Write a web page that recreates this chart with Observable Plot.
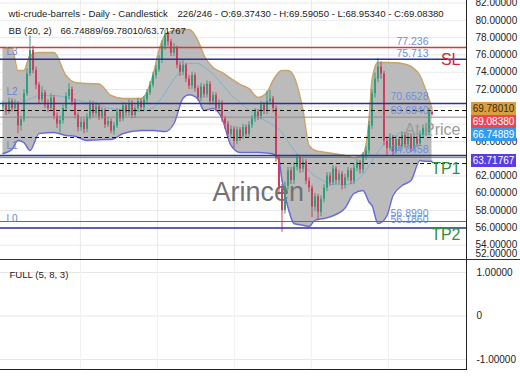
<!DOCTYPE html>
<html><head><meta charset="utf-8">
<script src="https://cdn.jsdelivr.net/npm/d3@7"></script>
<script src="https://cdn.jsdelivr.net/npm/@observablehq/plot@0.6"></script>
<style>
body{margin:0;background:#fff;font-family:"Liberation Sans",Arial,sans-serif;}
#wrap{position:relative;width:520px;height:390px;overflow:hidden;background:#fff;}
#main,#sub{position:absolute;left:0;}
#main{top:0;} #sub{top:260px;}
#sep{position:absolute;left:0;top:259px;width:520px;height:1px;background:#333;}
.badge{position:absolute;left:471px;width:45px;height:13px;font-size:10px;line-height:13px;text-align:center;font-family:"Liberation Sans",Arial,sans-serif;}
</style></head><body>
<div id="wrap"><div id="main"></div><div id="sub"></div><div id="sep"></div></div>
<script>
// ---- candle data (bar index = position in arrays) ----
const firstOpen = 70.0;
const closes = [70.2,69.4,70.6,69.8,70.4,67.8,68.5,71.5,73.8,76.5,
74.2,72.5,70.8,71.6,70.2,69.8,71.0,68.9,68.0,68.4,
69.8,71.2,72.0,70.5,69.0,67.6,68.2,67.4,68.8,70.3,
69.2,70.0,68.8,69.5,67.9,68.3,67.2,67.8,69.4,68.6,
70.1,69.3,70.4,69.0,69.8,70.6,69.9,70.8,71.6,72.5,
73.6,74.3,75.4,77.0,78.3,77.5,76.2,76.8,74.8,74.0,
74.8,73.2,72.4,73.6,72.1,71.0,72.3,71.4,72.6,70.6,
71.3,69.8,70.4,68.6,68.0,66.8,67.4,66.0,67.3,66.5,
67.6,66.8,67.9,68.6,69.4,68.9,70.2,69.5,70.6,70.9,
69.8,64.0,60.5,58.0,60.8,62.6,61.5,63.0,64.1,62.8,
63.6,61.4,60.6,58.4,59.6,57.8,59.3,60.6,62.0,61.2,
62.8,61.5,62.2,60.9,61.8,62.6,61.4,62.9,63.5,62.7,
64.3,64.9,67.8,71.5,73.2,74.6,73.8,66.0,65.2,66.4,
64.8,66.2,65.4,66.7,65.6,66.5,65.1,66.3,65.7,66.8,
67.5,67.0,69.3743,69.0838];
const highs = [70.6,70.5,71.0,70.9,70.8,70.6,68.9,72.0,74.4,78.2,
77.0,74.6,72.8,72.3,71.9,70.8,71.5,71.3,69.3,68.9,
70.2,71.6,72.7,72.3,70.9,69.3,68.7,68.6,69.2,70.7,
70.6,70.5,70.3,69.9,69.8,68.8,68.6,68.2,69.8,69.7,
70.5,70.4,70.8,70.7,70.2,71.0,70.9,71.2,72.0,72.9,
74.0,74.8,75.9,77.6,78.8,78.6,77.8,77.3,77.0,75.2,
75.3,75.0,73.6,74.0,73.9,72.4,72.7,72.6,73.0,72.9,
71.7,71.6,70.8,70.7,68.9,68.3,67.8,67.7,67.7,67.6,
68.0,67.9,68.3,69.0,69.8,69.7,70.6,70.5,71.8,71.9,
71.2,70.1,64.4,61.0,61.3,63.0,63.0,63.5,64.5,64.4,
64.0,63.9,61.8,60.9,60.0,59.9,59.7,61.0,62.4,62.4,
63.2,63.1,62.6,62.5,62.2,63.0,62.9,63.3,63.9,63.8,
64.7,65.4,68.3,72.0,73.9,75.6,75.2,74.1,66.5,66.9,
66.7,66.6,66.5,67.1,67.0,66.9,66.8,66.7,66.6,67.2,
67.9,67.8,69.9,69.5905];
const lows = [69.6,69.0,69.1,69.4,69.4,66.9,67.2,68.2,71.2,73.5,
73.8,72.0,70.3,70.5,69.8,69.3,69.5,68.5,67.5,67.0,
68.0,69.5,70.8,70.1,68.6,67.1,67.2,66.9,67.0,68.5,
68.8,68.9,68.4,68.5,67.5,67.6,66.9,66.7,67.5,68.2,
68.3,68.9,68.9,68.6,68.7,69.4,69.5,69.6,70.4,71.3,
72.2,73.2,74.0,75.0,76.5,77.0,75.8,75.8,74.4,73.5,
73.6,72.8,72.0,72.0,71.7,70.6,70.6,71.0,71.0,70.2,
70.2,69.4,69.4,68.2,67.4,66.3,66.4,65.2,65.6,66.0,
66.2,66.4,66.4,67.5,68.2,68.4,68.5,69.1,69.1,70.2,
69.3,63.6,59.8,55.5,57.6,60.4,61.0,61.0,62.6,62.3,
62.4,61.0,60.1,57.2,57.9,56.8,57.3,58.9,60.2,60.8,
60.9,61.0,61.0,60.4,60.5,61.4,61.0,61.0,62.5,62.2,
62.3,63.8,64.5,67.4,71.0,72.8,73.2,65.5,64.4,64.9,
64.3,64.5,65.0,65.0,65.2,65.2,64.7,64.8,65.3,65.4,
66.4,66.6,66.7,68.9534];

// ---- Bollinger band (20, 2) ----
const bandBars = [0,3,5,7,9,12,17,21,24,28,32,36,40,46,50,52,54,57,60,62,65,67,70,73,76,79,82,85,88,90,92,93,95,97,100,102,104,107,110,114,117,120,122,123,125,128,130,133,136,139,141,143];
const bandUpper = [76.86,76.74,74.20,74.20,75.93,76.28,76.28,73.62,72.81,72.69,72.65,71.31,70.96,70.96,73.62,76.51,78.24,78.82,78.9,78.94,77.66,75.93,74.54,73.97,73.27,72.6,72.1,71.08,71.65,73.04,74.0,74.2,74.2,73.5,69.57,65.53,64.95,64.75,64.6,64.37,64.1,64.5,68.42,73.04,75.12,75.12,75.1,75.01,74.66,73.62,71.88,69.7801];
const bandLower = [64.60,65.1,66.10,65.87,64.95,66.91,67.03,66.68,66.6,66.10,66.2,66.22,66.91,67.26,67.26,67.2,67.14,68.07,71.0,71.4,70.9,69.57,69.80,68.65,65.53,64.72,64.72,64.72,64.65,64.55,63.79,61.48,58.36,56.51,56.3,56.16,56.9,57.09,57.4,58.3,59.98,60.32,59.0,58.6,56.51,57.43,59.75,60.90,61.48,63.79,63.7,63.71767];
const bandMiddle = [70.3,70.5,70.4,70.6,70.9,71.3,71.3,71.1,70.8,70.5,70.2,69.8,69.6,69.5,69.9,70.6,71.6,73.2,74.5,75.0,75.0,74.6,73.8,72.6,71.4,70.5,69.6,68.9,68.3,67.9,67.4,67.0,66.0,65.0,63.6,62.6,62.0,61.4,61.0,61.0,61.3,62.2,63.2,63.8,64.8,66.0,66.5,67.0,66.9,66.8,66.8,66.74889];

// ---- axes / grid ----
const priceGrid = [54,56,58,60,62,64,66,68,70,72,74,76,78,80,82];
const priceTickLabels = [54,56,58,60,62,66,72,74,76,78,80,82]; // 64, 68, 70 sit under the price badges
const bottomTickLabel = "52.00000";
const gridBars = [25.8,51.5,77.2,102.8,128.5];
const oscTicks = [1,0,-1];
const oscTickLabels = ["1.00000","0","-1.00000"];

// ---- horizontal levels ----
const levelValues = [76.86,75.5,70.38,69.57,68.8,66.45,64.37,64.17,63.44,56.74,55.99];
const levelKinds = ["red","navy","navy","dash","gray","dash","navy","green","dash","green","navy"];
const levelLabels = ["77.236","75.713","70.6528","69.6840","64.6458","56.8990","56.1860"];
const levelLabelAt = [77.55,76.16,71.19,69.57,65.06,57.66,56.97];
const lineNames = ["L3","L2","L1","L0"];
const lineNameAt = [76.31,71.69,65.53,57.09];
const zoneNames = ["SL","At Price","TP1","TP2"];
const zoneAt = [75.47,67.34,62.87,55.24];
const zoneColors = ["#d3253a","#9a9a9a","#2f8f3a","#2f8f3a"];
const watermark = "Arincen";
const watermarkAt = 60.1;

// ---- price badges on the axis ----
const badgeValues = [69.78010,69.08380,66.74889,63.71767];
const badgeFill = ["#d9a03f","#ec4656","#2f9cf0","#5a3ce2"];
const badgeInk = ["#3a2a10","#ffffff","#ffffff","#ffffff"];

// ---- header ----
const symbolName = "wti-crude-barrels - Daily - Candlestick";
const barCounter = "226/246";
const bbName = "BB (20, 2)";
const oscName = "FULL (5, 8, 3)";

// ---- build tables ----
const candles = closes.map((c, i) => ({
  i, close: c, open: i ? closes[i - 1] : firstOpen, high: highs[i], low: lows[i]
}));
candles.forEach(d => d.up = d.close >= d.open);
const band = bandBars.map((b, k) => ({i: b, upper: bandUpper[k], lower: bandLower[k], middle: bandMiddle[k]}));
const levels = levelValues.map((v, k) => ({value: v, kind: levelKinds[k]}));
const last = candles[candles.length - 1];
const f5 = v => v.toFixed(5);
const ohlcText = `${barCounter} - O:${f5(last.open)} - H:${f5(last.high)} - L:${f5(last.low)} - C:${f5(last.close)}`;
const bbText = `${f5(bandMiddle[bandMiddle.length-1])}/${f5(bandUpper[bandUpper.length-1])}/${f5(bandLower[bandLower.length-1])}`;

const FONT = "Liberation Sans, Arial, sans-serif";
const UP = "#2f9e7c", DOWN = "#cc3f5e";
const xDomain = [-0.833, 154.5];

const lvl = k => levels.filter(d => d.kind === k);

const main = Plot.plot({
  width: 520, height: 260,
  marginLeft: 0, marginRight: 54, marginTop: 0, marginBottom: 0,
  x: {domain: xDomain, axis: null},
  y: {domain: [52.23, 82.29]},
  style: {fontFamily: FONT, fontSize: "10px", background: "transparent", overflow: "hidden"},
  marks: [
    Plot.ruleY(priceGrid, {y: d => d, stroke: "#e9e9e9", strokeWidth: 1}),
    Plot.ruleX(gridBars, {x: d => d, stroke: "#e9e9e9", strokeWidth: 1}),
    Plot.areaY(band, {x: "i", y1: "lower", y2: "upper", fill: "#bbbbbb", curve: "monotone-x"}),
    Plot.lineY(band, {x: "i", y: "upper", stroke: "#c9a46a", strokeWidth: 1.5, curve: "monotone-x"}),
    Plot.lineY(band, {x: "i", y: "lower", stroke: "#6a6ad6", strokeWidth: 1.5, curve: "monotone-x"}),
    Plot.lineY(band, {x: "i", y: "middle", stroke: "#7db3d3", strokeWidth: 1, curve: "monotone-x"}),
    Plot.text([watermark], {text: d => d, y: watermarkAt, frameAnchor: "left", dx: 212, textAnchor: "start", fontSize: 27, fill: "#727272"}),
    Plot.ruleX(candles, {x: "i", y1: "low", y2: "high", stroke: d => d.up ? UP : DOWN, strokeWidth: 1}),
    Plot.ruleX(candles, {x: "i", y1: "open", y2: "close", stroke: d => d.up ? UP : DOWN, strokeWidth: 2}),
    Plot.ruleY(lvl("gray"), {y: "value", stroke: "#8c8c8c", strokeWidth: 1}),
    Plot.ruleY(lvl("dash"), {y: "value", stroke: "#111", strokeWidth: 1, strokeDasharray: "4,3"}),
    Plot.ruleY(lvl("green"), {y: "value", stroke: "#3c8a3c", strokeWidth: 1.2}),
    Plot.ruleY(lvl("navy"), {y: "value", stroke: "#2f2f96", strokeWidth: 1.5}),
    Plot.ruleY(lvl("red"), {y: "value", stroke: "#cf3a3a", strokeWidth: 1.5}),
    Plot.text(levelLabels, {text: d => d, y: (d, k) => levelLabelAt[k], frameAnchor: "right", dx: -38, textAnchor: "end", fontSize: 10.5, fill: "#6d8ee0"}),
    Plot.text(lineNames, {text: d => d, y: (d, k) => lineNameAt[k], frameAnchor: "left", dx: 6, textAnchor: "start", fontSize: 10, fill: "#6a86d2"}),
    Plot.text(zoneNames, {text: d => d, y: (d, k) => zoneAt[k], frameAnchor: "right", dx: -6, textAnchor: "end", fontSize: 16, fill: (d, k) => zoneColors[k]}),
    Plot.axisY({anchor: "right", ticks: priceTickLabels, tickFormat: d => d.toFixed(5), tickSize: 0, tickPadding: 9, fontSize: 10, fill: "#222", label: null}),
    Plot.text([bottomTickLabel], {text: d => d, frameAnchor: "bottom-right", dx: 9, dy: -7, textAnchor: "start", lineAnchor: "middle", fontSize: 10, fill: "#222"}),
    Plot.frame({anchor: "right", stroke: "#222"}),
    Plot.text([symbolName], {text: d => d, frameAnchor: "top-left", dx: 8, dy: 13, textAnchor: "start", lineAnchor: "middle", fontSize: 9.6, fill: "#222"}),
    Plot.text([ohlcText], {text: d => d, frameAnchor: "top-left", dx: 177, dy: 13, textAnchor: "start", lineAnchor: "middle", fontSize: 9.6, fill: "#222"}),
    Plot.text([bbName], {text: d => d, frameAnchor: "top-left", dx: 8, dy: 30, textAnchor: "start", lineAnchor: "middle", fontSize: 9.6, fill: "#222"}),
    Plot.text([bbText], {text: d => d, frameAnchor: "top-left", dx: 60, dy: 30, textAnchor: "start", lineAnchor: "middle", fontSize: 9.6, fill: "#222"})
  ]
});
document.getElementById("main").appendChild(main);

// badges placed through the plot's own y scale, nudged apart when they overlap
const ys = main.scale("y");
let prev = -Infinity;
badgeValues.map((v, k) => ({v, k, y: ys.apply(v)})).sort((a, b) => a.y - b.y).forEach(b => {
  const y = Math.max(b.y, prev + 13);
  prev = y;
  const el = document.createElement("div");
  el.className = "badge";
  el.style.top = (y - 6.5) + "px";
  el.style.background = badgeFill[b.k];
  el.style.color = badgeInk[b.k];
  el.textContent = f5(b.v);
  document.getElementById("wrap").appendChild(el);
});

const sub = Plot.plot({
  width: 520, height: 110,
  marginLeft: 0, marginRight: 54, marginTop: 0, marginBottom: 1,
  x: {domain: xDomain, axis: null},
  y: {domain: [-1.23, 1.276]},
  style: {fontFamily: FONT, fontSize: "10px", background: "transparent", overflow: "hidden"},
  marks: [
    Plot.ruleY(oscTicks, {y: d => d, stroke: "#e6e6e6"}),
    Plot.ruleX(gridBars, {x: d => d, stroke: "#f1f1f1"}),
    Plot.text([oscName], {text: d => d, frameAnchor: "top-left", dx: 9, dy: 14, textAnchor: "start", lineAnchor: "middle", fontSize: 9.6, fill: "#222"}),
    Plot.axisY({anchor: "right", ticks: oscTicks, tickFormat: (d, k) => oscTickLabels[k], tickSize: 0, tickPadding: 10, fontSize: 10, fill: "#222", label: null}),
    Plot.frame({anchor: "right", stroke: "#222"}),
    Plot.frame({anchor: "bottom", stroke: "#222"})
  ]
});
document.getElementById("sub").appendChild(sub);
</script>
</body></html>
